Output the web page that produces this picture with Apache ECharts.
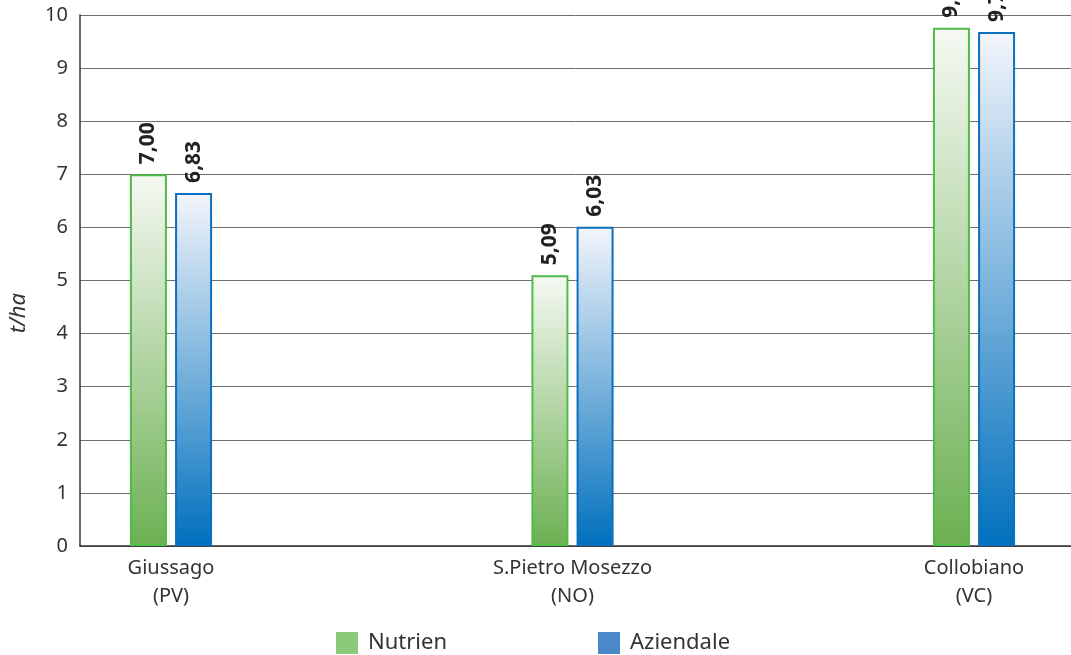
<!DOCTYPE html>
<html>
<head>
<meta charset="utf-8">
<script src="https://cdn.jsdelivr.net/npm/echarts@6/dist/echarts.min.js"></script>
<style>html,body{margin:0;padding:0;background:#fff}#c{width:1071px;height:655px}</style>
</head>
<body>
<div id="c"></div>
<script>
const categories = ['Giussago\n(PV)', 'S.Pietro Mosezzo\n(NO)', 'Collobiano\n(VC)'];
const nutrienValues = [7.00, 5.10, 9.76];
const aziendaleValues = [6.65, 6.01, 9.68];
const nutrienLabels = ['7,00', '5,09', '9,76'];
const aziendaleLabels = ['6,83', '6,03', '9,77'];
const seriesNames = ['Nutrien', 'Aziendale'];
const yTicks = [0, 1, 2, 3, 4, 5, 6, 7, 8, 9, 10];
const yAxisTitle = 't/ha';

const FONT = 'Noto Sans';
const chart = echarts.init(document.getElementById('c'), null, {renderer: 'canvas'});

function grad(top, bottom) {
  return new echarts.graphic.LinearGradient(0, 0, 0, 1, [
    {offset: 0, color: top}, {offset: 1, color: bottom}
  ]);
}

const labelCommon = {
  show: true, position: 'top', rotate: 90, align: 'left', verticalAlign: 'middle',
  distance: 10, color: '#222', fontWeight: 'bold', fontSize: 21, fontFamily: FONT
};

chart.setOption({
  animation: false,
  backgroundColor: '#fff',
  textStyle: {fontFamily: FONT},
  grid: [
    {left: 80, right: 0, top: 15, bottom: 109},
    {left: 171, right: 97, top: 15, bottom: 109}
  ],
  graphic: [
    {type: 'text', left: 8, top: 293, rotation: Math.PI / 2,
     style: {text: yAxisTitle, fontStyle: 'italic', fontSize: 22, fill: '#333', fontFamily: FONT}}
  ],
  xAxis: [
    {gridIndex: 0, type: 'category', data: categories, axisLabel: {show: false}, axisTick: {show: false},
     axisLine: {show: true, lineStyle: {color: '#333', width: 1.5}}},
    {gridIndex: 1, type: 'category', data: categories, boundaryGap: false,
     axisLine: {show: false}, axisTick: {show: false},
     axisLabel: {show: true, color: '#333', fontSize: 20, lineHeight: 28, margin: 8, fontFamily: FONT, interval: 0}}
  ],
  yAxis: [
    {gridIndex: 0, type: 'value', min: yTicks[0], max: yTicks[yTicks.length - 1], interval: 1,
     axisLine: {show: true, lineStyle: {color: '#333', width: 1.5}},
     axisTick: {show: false},
     axisLabel: {color: '#333', fontSize: 20, margin: 12, fontFamily: FONT},
     splitLine: {show: true, lineStyle: {color: '#6e6e6e', width: 1}}},
    {gridIndex: 1, type: 'value', min: yTicks[0], max: yTicks[yTicks.length - 1], interval: 1, show: false,
     splitLine: {show: false}}
  ],
  legend: [
    {left: 336, top: 632, padding: 0, itemWidth: 22, itemHeight: 22, itemGap: 0,
     textStyle: {fontSize: 22, color: '#333', padding: [0, 0, 0, 5], fontFamily: FONT},
     data: [{name: seriesNames[0], icon: 'rect', itemStyle: {color: '#8cc97b', borderWidth: 0}}]},
    {left: 598, top: 632, padding: 0, itemWidth: 22, itemHeight: 22, itemGap: 0,
     textStyle: {fontSize: 22, color: '#333', padding: [0, 0, 0, 5], fontFamily: FONT},
     data: [{name: seriesNames[1], icon: 'rect', itemStyle: {color: '#4a88c8', borderWidth: 0}}]}
  ],
  series: [
    {name: seriesNames[0], type: 'bar', xAxisIndex: 1, yAxisIndex: 1, data: nutrienValues,
     barWidth: 37, barGap: '22%', clip: false,
     itemStyle: {color: grad('#f6f9f3', '#6cb052'), borderColor: '#4fbc47', borderWidth: 2},
     label: Object.assign({}, labelCommon, {formatter: p => nutrienLabels[p.dataIndex]})},
    {name: seriesNames[1], type: 'bar', xAxisIndex: 1, yAxisIndex: 1, data: aziendaleValues,
     barWidth: 37, barGap: '22%', clip: false,
     itemStyle: {color: grad('#f3f5fb', '#0070bd'), borderColor: '#0c70bf', borderWidth: 2},
     label: Object.assign({}, labelCommon, {formatter: p => aziendaleLabels[p.dataIndex]})}
  ]
});
</script>
</body>
</html>
